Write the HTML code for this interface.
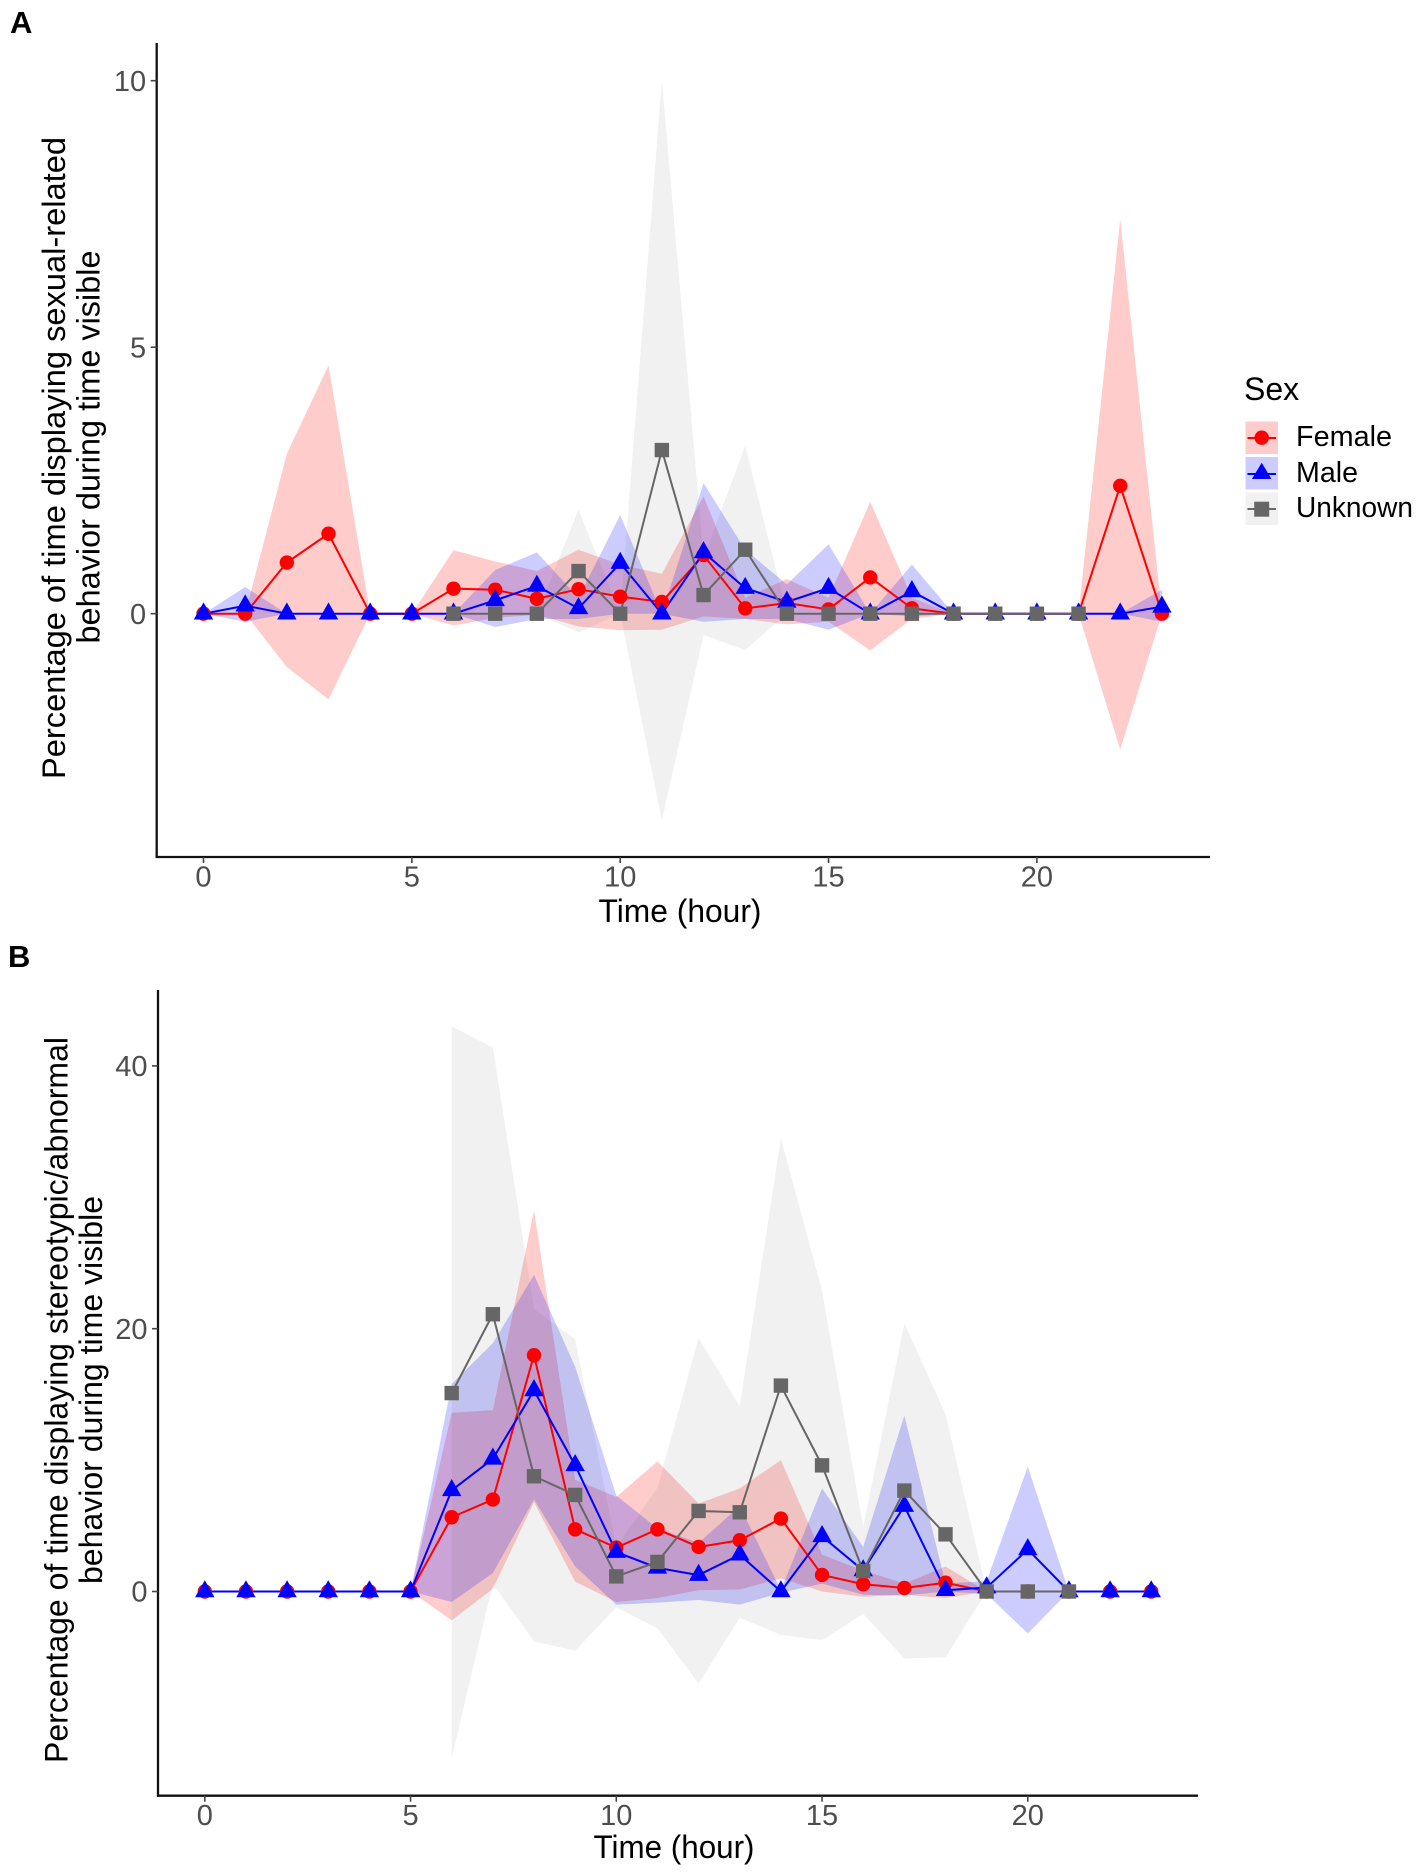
<!DOCTYPE html>
<html>
<head>
<meta charset="utf-8">
<title>Sexual-related and stereotypic behavior by hour</title>
<style>
html,body{margin:0;padding:0;background:#fff;}
svg{display:block;}
text{font-family:"Liberation Sans",Arial,sans-serif;}
</style>
</head>
<body>
<svg id="figure" xmlns="http://www.w3.org/2000/svg" width="1418" height="1872" viewBox="0 0 1418 1872">
  <rect x="0" y="0" width="1418" height="1872" fill="#ffffff"/>
  <text x="10" y="33" font-size="31" font-weight="700" fill="#000">A</text>
  <text x="8" y="967" font-size="31" font-weight="700" fill="#000">B</text>
  <g id="panelA"></g>
  <g id="panelB"></g>

  <text transform="translate(65,458) rotate(-90)" text-anchor="middle" font-size="32" fill="#000" textLength="642" lengthAdjust="spacingAndGlyphs">Percentage of time displaying sexual-related</text>
  <text transform="translate(99.5,447) rotate(-90)" text-anchor="middle" font-size="32" fill="#000" textLength="393" lengthAdjust="spacingAndGlyphs">behavior during time visible</text>
  <text x="680" y="922" text-anchor="middle" font-size="32" fill="#000" textLength="163" lengthAdjust="spacingAndGlyphs">Time (hour)</text>

  <text transform="translate(67.5,1400) rotate(-90)" text-anchor="middle" font-size="32" fill="#000" textLength="726" lengthAdjust="spacingAndGlyphs">Percentage of time displaying stereotypic/abnormal</text>
  <text transform="translate(102,1390) rotate(-90)" text-anchor="middle" font-size="32" fill="#000" textLength="388" lengthAdjust="spacingAndGlyphs">behavior during time visible</text>
  <text x="674" y="1858" text-anchor="middle" font-size="32" fill="#000" textLength="161" lengthAdjust="spacingAndGlyphs">Time (hour)</text>

  <g>
    <text x="1244" y="400" font-size="32" fill="#000">Sex</text>
    <g>
      <rect x="1245.500" y="421.500" width="32.500" height="32.500" fill="#ff0000" fill-opacity="0.2"/>
      <line x1="1247.500" x2="1276" y1="438" y2="438" stroke="#ff0000" stroke-width="2"/>
      <circle cx="1261.700" cy="437.700" r="7.200" fill="#ff0000"/>
      <text x="1296" y="446" font-size="28.500" fill="#000" textLength="96" lengthAdjust="spacingAndGlyphs">Female</text>
    </g>
    <g>
      <rect x="1245.500" y="457" width="32.500" height="32.500" fill="#0000ff" fill-opacity="0.2"/>
      <line x1="1247.500" x2="1276" y1="474" y2="474" stroke="#0000ff" stroke-width="2"/>
      <polygon points="1261.700,462.700 1271.500,479 1251.900,479" fill="#0000ff"/>
      <text x="1296" y="482" font-size="28.500" fill="#000" textLength="62" lengthAdjust="spacingAndGlyphs">Male</text>
    </g>
    <g>
      <rect x="1245.500" y="492.500" width="32.500" height="32.500" fill="#666666" fill-opacity="0.09"/>
      <line x1="1247.500" x2="1276" y1="509" y2="509" stroke="#666666" stroke-width="2"/>
      <rect x="1254.200" y="501.700" width="15" height="15" fill="#666666"/>
      <text x="1296" y="517" font-size="28.500" fill="#000" textLength="117" lengthAdjust="spacingAndGlyphs">Unknown</text>
    </g>
  </g>
</svg>
<script>
// Shared categories and tick labels
const hours = [0,1,2,3,4,5,6,7,8,9,10,11,12,13,14,15,16,17,18,19,20,21,22,23];
const xTickLabels = [0,5,10,15,20];
const aYTickLabels = [0,5,10];
const bYTickLabels = [0,20,40];

// Panel A: sexual-related behavior
const aFemaleMean  = [0,0,0.96,1.5,0,0,0.47,0.45,0.28,0.46,0.32,0.22,1.1,0.1,0.2,0.08,0.68,0.1,0,0,0,0,2.4,0];
const aFemaleUpper = [0,0,3.0,4.66,0,0,1.19,0.98,0.8,1.2,0.92,0.75,2.2,0.3,0.65,0.3,2.1,0.3,0,0,0,0,7.4,0];
const aFemaleLower = [0,0,-1.0,-1.61,0,0,-0.22,-0.08,-0.02,-0.24,-0.31,-0.3,-0.05,-0.1,-0.2,-0.15,-0.69,-0.1,0,0,0,0,-2.55,0];
const aMaleMean    = [0,0.15,0,0,0,0,0,0.25,0.52,0.1,0.95,0,1.15,0.48,0.22,0.48,0,0.42,0,0,0,0,0,0.13];
const aMaleUpper   = [0,0.5,0,0,0,0,0,0.82,1.15,0.3,1.85,0,2.45,1.2,0.55,1.3,0,0.92,0,0,0,0,0,0.45];
const aMaleLower   = [0,-0.15,0,0,0,0,0,-0.25,-0.1,-0.1,0,0,-0.15,-0.1,-0.1,-0.3,0,-0.05,0,0,0,0,0,-0.15];
const aUnknownMean  = [null,null,null,null,null,null,0,0,0,0.8,0,3.07,0.35,1.2,0,0,0,0,0,0,0,0,null,null];
const aUnknownUpper = [null,null,null,null,null,null,0,0,0,1.95,0,10.0,1.05,3.15,0,0,0,0,0,0,0,0,null,null];
const aUnknownLower = [null,null,null,null,null,null,0,0,0,-0.35,0,-3.88,-0.4,-0.68,0,0,0,0,0,0,0,0,null,null];

// Panel B: stereotypic/abnormal behavior
const bFemaleMean  = [0,0,0,0,0,0,5.65,7.0,17.98,4.73,3.34,4.73,3.39,3.9,5.55,1.26,0.55,0.27,0.67,0,0,0,0,0];
const bFemaleUpper = [0,0,0,0,0,0,13.6,13.8,29,8.5,7.2,9.9,6.7,7.85,10,2.8,1.6,0.6,1.9,0,0,0,0,0];
const bFemaleLower = [0,0,0,0,0,0,-2.2,0.2,6.8,0.75,-0.8,-0.5,0.1,0.15,1,0,-0.4,-0.25,-0.5,0,0,0,0,0];
const bMaleMean    = [0,0,0,0,0,0,7.7,10.1,15.3,9.6,3.0,1.8,1.25,2.8,0,4.2,1.6,6.5,0.1,0.3,3.2,0,0,0];
const bMaleUpper   = [0,0,0,0,0,0,15.8,18.9,24.1,17.1,7.3,4.8,3.7,6.5,0.1,7.85,3.4,13.4,0.6,0.8,9.5,0,0,0];
const bMaleLower   = [0,0,0,0,0,0,-0.8,1.4,7,1.9,-1,-0.85,-0.65,-1.0,-0.1,0.6,-0.25,-0.3,0,-0.2,-3.2,0,0,0];
const bUnknownMean  = [null,null,null,null,null,null,15.1,21.1,8.77,7.35,1.15,2.25,6.13,6.03,15.67,9.6,1.56,7.68,4.35,0,0,0,null,null];
const bUnknownUpper = [null,null,null,null,null,null,43,41.4,21.5,19.2,3.4,7.9,19.3,14.1,34.5,22.9,4.9,20.4,13.5,0,0,0,null,null];
const bUnknownLower = [null,null,null,null,null,null,-12.7,0.6,-3.8,-4.5,-1.2,-2.8,-7,-2,-3.3,-3.7,-1.7,-5.1,-5,0,0,0,null,null];

const NS = 'http://www.w3.org/2000/svg';

function make(tag, parent, attrs, label) {
  const node = document.createElementNS(NS, tag);
  for (const key in attrs) node.setAttribute(key, attrs[key]);
  if (label !== undefined) node.textContent = label;
  parent.appendChild(node);
  return node;
}

function drawPanel(panelId, prefix, geom, yTicks, series) {
  const root = document.getElementById(panelId);
  const xScale = h => geom.x0 + geom.xUnit * h;
  const yScale = v => geom.y0 - geom.yUnit * v;

  // Ribbons
  series.forEach(s => {
    const idx = hours.map((h, i) => i).filter(i => s.upper[i] !== null);
    const top = idx.map(i => xScale(hours[i]).toFixed(2) + ',' + yScale(s.upper[i]).toFixed(2));
    const bottom = idx.slice().reverse().map(i => xScale(hours[i]).toFixed(2) + ',' + yScale(s.lower[i]).toFixed(2));
    const ribbon = make('polygon', root, {points: top.concat(bottom).join(' '), fill: s.color, 'fill-opacity': s.alpha});
    
    
  });

  // Lines
  series.forEach(s => {
    const idx = hours.map((h, i) => i).filter(i => s.mean[i] !== null);
    const pts = idx.map(i => xScale(hours[i]).toFixed(2) + ',' + yScale(s.mean[i]).toFixed(2));
    const line = make('polyline', root, {points: pts.join(' '), fill: 'none', stroke: s.color, 'stroke-width': 2, 'stroke-linejoin': 'round'});
    
    
  });

  // Points
  series.forEach(s => {
    hours.forEach((h, i) => {
      if (s.mean[i] === null) return;
      const cx = xScale(h), cy = yScale(s.mean[i]);
      let mark;
      if (s.shape === 'circle') {
        mark = make('circle', root, {cx: cx, cy: cy, r: 7.2, fill: s.color});
      } else if (s.shape === 'triangle') {
        const pts = [cx + ',' + (cy - 11.3), (cx + 9.7) + ',' + (cy + 5.8), (cx - 9.7) + ',' + (cy + 5.8)];
        mark = make('polygon', root, {points: pts.join(' '), fill: s.color});
      } else {
        mark = make('rect', root, {x: cx - 7.2, y: cy - 7.2, width: 14.4, height: 14.4, fill: s.color});
      }
      
      
    });
  });

  // Axes
  const yAxis = make('line', root, {x1: geom.left, x2: geom.left, y1: geom.top, y2: geom.bottom + 1, stroke: '#111', 'stroke-width': 2.3});
  
  
  const xAxis = make('line', root, {x1: geom.left - 1, x2: geom.right, y1: geom.bottom, y2: geom.bottom, stroke: '#111', 'stroke-width': 2.3});
  
  

  xTickLabels.forEach(t => {
    const tick = make('line', root, {x1: xScale(t), x2: xScale(t), y1: geom.bottom, y2: geom.bottom + 6, stroke: '#444', 'stroke-width': 1.6});
    
    
    const label = make('text', root, {x: xScale(t), y: geom.bottom + 29.3, 'text-anchor': 'middle', 'font-size': 29, fill: '#4d4d4d'}, String(t));
    
    
  });

  yTicks.forEach(t => {
    const tick = make('line', root, {x1: geom.left - 6, x2: geom.left, y1: yScale(t), y2: yScale(t), stroke: '#444', 'stroke-width': 1.6});
    
    
    const label = make('text', root, {x: geom.left - 10.5, y: yScale(t) + 10.2, 'text-anchor': 'end', 'font-size': 29, fill: '#4d4d4d'}, String(t));
    
    
  });
}

drawPanel('panelA', 'panel-a',
  {x0: 203.5, xUnit: 41.67, y0: 613.7, yUnit: 53.3, left: 156.7, right: 1210, top: 43, bottom: 857},
  aYTickLabels,
  [
    {key: 'female',  color: '#ff0000', alpha: 0.2, shape: 'circle',   mean: aFemaleMean,  upper: aFemaleUpper,  lower: aFemaleLower},
    {key: 'male',    color: '#0000ff', alpha: 0.2, shape: 'triangle', mean: aMaleMean,    upper: aMaleUpper,    lower: aMaleLower},
    {key: 'unknown', color: '#666666', alpha: 0.09, shape: 'square',  mean: aUnknownMean, upper: aUnknownUpper, lower: aUnknownLower}
  ]);

drawPanel('panelB', 'panel-b',
  {x0: 204.8, xUnit: 41.15, y0: 1591.5, yUnit: 13.14, left: 158, right: 1198, top: 990, bottom: 1795.7},
  bYTickLabels,
  [
    {key: 'female',  color: '#ff0000', alpha: 0.2, shape: 'circle',   mean: bFemaleMean,  upper: bFemaleUpper,  lower: bFemaleLower},
    {key: 'male',    color: '#0000ff', alpha: 0.2, shape: 'triangle', mean: bMaleMean,    upper: bMaleUpper,    lower: bMaleLower},
    {key: 'unknown', color: '#666666', alpha: 0.09, shape: 'square',  mean: bUnknownMean, upper: bUnknownUpper, lower: bUnknownLower}
  ]);
</script>
</body>
</html>
